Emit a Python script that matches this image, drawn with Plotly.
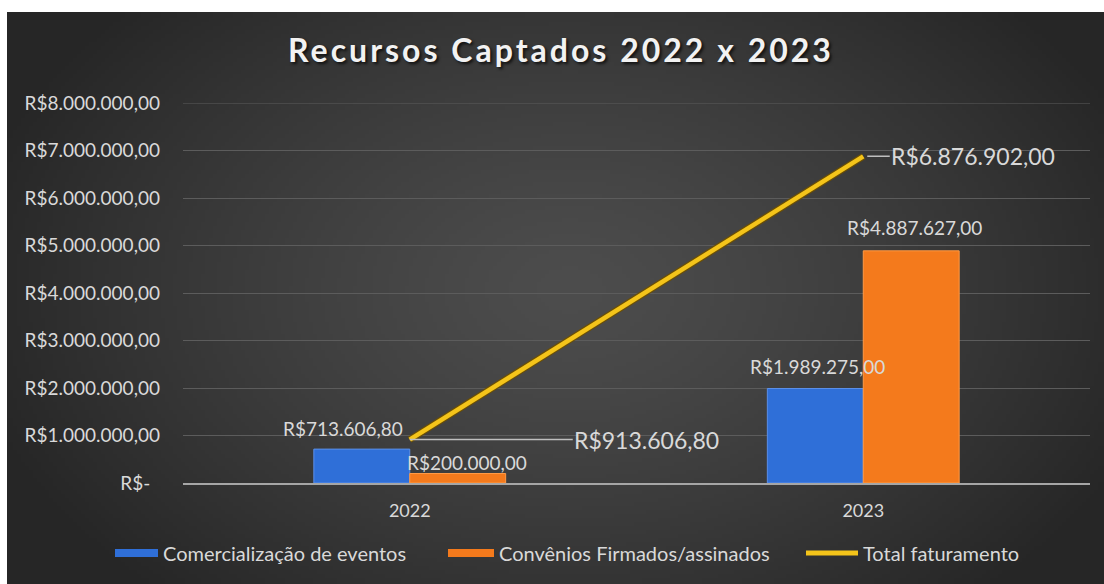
import base64
import struct
import zlib

import numpy as np
import plotly.graph_objects as go

# ---------------- data ----------------
categories = ["2022", "2023"]
comercializacao = [713606.80, 1989275.00]
convenios = [200000.00, 4887627.00]
total_faturamento = [913606.80, 6876902.00]

series_names = ["Comercialização de eventos", "Convênios Firmados/assinados", "Total faturamento"]
title_text = "Recursos Captados 2022 x 2023"

tick_vals = [0, 1000000, 2000000, 3000000, 4000000, 5000000, 6000000, 7000000, 8000000]
tick_text = ["R$-\u00a0\u00a0", "R$1.000.000,00", "R$2.000.000,00", "R$3.000.000,00", "R$4.000.000,00",
             "R$5.000.000,00", "R$6.000.000,00", "R$7.000.000,00", "R$8.000.000,00"]


def brl(v):
    s = f"{v:,.2f}"
    s = s.replace(",", "X").replace(".", ",").replace("X", ".")
    return "R$" + s


# ---------------- styling ----------------
W, H = 1104, 584
L, R, T, B = 183, 14, 103, 101
PW, PH = W - L - R, H - T - B
FONT = "Lato"
TXT = "#d9d9d9"
BLUE = "#2f6fd8"
ORANGE = "#f47a1c"
YELLOW = "#f4c41a"
GRID = "#5c5c5c"
BARGAP = 0.577


def make_png(arr):
    h, w, _ = arr.shape
    raw = b"".join(b"\x00" + arr[i].tobytes() for i in range(h))

    def chunk(tag, data):
        c = struct.pack(">I", len(data)) + tag + data
        return c + struct.pack(">I", zlib.crc32(tag + data) & 0xFFFFFFFF)

    png = b"\x89PNG\r\n\x1a\n"
    png += chunk(b"IHDR", struct.pack(">IIBBBBB", w, h, 8, 2, 0, 0, 0))
    png += chunk(b"IDAT", zlib.compress(raw, 9))
    png += chunk(b"IEND", b"")
    return "data:image/png;base64," + base64.b64encode(png).decode()


# background radial gradient covering the chart region (x 7..1104, y 12..584 px)
bx0, by0, bx1, by1 = 7, 12, W, H
iw, ih = 274, 143
xs = np.linspace(bx0, bx1, iw)
ys = np.linspace(by0, by1, ih)
X, Y = np.meshgrid(xs, ys)
r = np.sqrt(((X - 570) / 620.0) ** 2 + ((Y - 290) / 420.0) ** 2)
r = np.clip(r, 0, 1)
v = 77 - 39 * r ** 1.3
img = np.stack([v, v, v], axis=-1).clip(0, 255).astype(np.uint8)
bg_src = make_png(img)


def px_to_paper_x(px):
    return (px - L) / PW


def px_to_paper_y(py):
    return (H - B - py) / PH


fig = go.Figure()

# bars
fig.add_trace(go.Bar(
    x=categories, y=comercializacao, name=series_names[0], showlegend=False,
    marker=dict(color=BLUE, line=dict(color="#5b8fe8", width=1)),
    hoverinfo="skip",
))
fig.add_trace(go.Bar(
    x=categories, y=convenios, name=series_names[1], showlegend=False,
    marker=dict(color=ORANGE, line=dict(color="#ff9a45", width=1)),
    hoverinfo="skip",
))

# line (dark edge + yellow)
fig.add_trace(go.Scatter(
    x=categories, y=total_faturamento, mode="lines", showlegend=False,
    line=dict(color="rgba(110,80,0,0.9)", width=7), hoverinfo="skip",
))
fig.add_trace(go.Scatter(
    x=categories, y=total_faturamento, mode="lines", name=series_names[2], showlegend=False,
    line=dict(color=YELLOW, width=4.5), hoverinfo="skip",
))

# legend entries (wide swatches), one legend per entry for exact placement
legend_ids = ["legend", "legend2", "legend3"]
for nm, col, lg in zip(series_names, [BLUE, ORANGE, YELLOW], legend_ids):
    fig.add_trace(go.Scatter(
        x=[None], y=[None], mode="lines", name=nm, legend=lg,
        line=dict(color=col, width=8 if col != YELLOW else 5),
    ))

annotations = []
half = (1 - BARGAP) / 4.0
blue_shift = [(-19, 21), (2, 22)]
orange_shift = [(9, 11), (3, 23)]
for i, val in enumerate(comercializacao):
    annotations.append(dict(
        x=i - half, y=val, xref="x", yref="y", text=brl(val), showarrow=False,
        xshift=blue_shift[i][0], yshift=blue_shift[i][1], yanchor="middle",
        font=dict(family=FONT, size=19, color=TXT),
    ))
for i, val in enumerate(convenios):
    annotations.append(dict(
        x=i + half, y=val, xref="x", yref="y", text=brl(val), showarrow=False,
        xshift=orange_shift[i][0], yshift=orange_shift[i][1], yanchor="middle",
        font=dict(family=FONT, size=19, color=TXT),
    ))
line_offsets = [(237, 0, 0), (110, 0, 4)]
for i, val in enumerate(total_faturamento):
    ax, ay, so = line_offsets[i]
    annotations.append(dict(
        x=i, y=val, xref="x", yref="y", text=brl(val), showarrow=True,
        arrowhead=0, arrowwidth=1.5, arrowcolor="#bfbfbf", ax=ax, ay=ay, standoff=so,
        font=dict(family=FONT, size=23, color=TXT),
    ))


def leg(swatch_px, itemwidth):
    return dict(
        orientation="h", x=px_to_paper_x(swatch_px - 5), xanchor="left",
        y=px_to_paper_y(553), yanchor="middle",
        font=dict(family=FONT, size=20, color=TXT), bgcolor="rgba(0,0,0,0)",
        itemwidth=itemwidth,
    )


fig.update_layout(
    width=W, height=H,
    margin=dict(l=L, r=R, t=T, b=B, pad=0),
    paper_bgcolor="white",
    plot_bgcolor="rgba(0,0,0,0)",
    barmode="group", bargap=BARGAP, bargroupgap=0,
    font=dict(family=FONT, color=TXT, size=18),
    title=dict(
        text='<span style="letter-spacing:3px">' + title_text + "</span>",
        x=561 / W, xref="container", xanchor="center",
        y=1 - 51 / H, yref="container", yanchor="middle",
        font=dict(family=FONT, size=32, color="#f2f2f2", weight="bold",
                  shadow="2px 2px 3px rgba(0,0,0,0.7)"),
    ),
    xaxis=dict(
        type="category", range=[-0.5, 1.5], showgrid=False, zeroline=False,
        showline=True, linecolor="#a6a6a6", linewidth=2,
        ticks="", tickfont=dict(family=FONT, size=18, color=TXT),
        ticklabelstandoff=10,
    ),
    yaxis=dict(
        range=[tick_vals[0], tick_vals[-1]], tickvals=tick_vals, ticktext=tick_text,
        showgrid=True, gridcolor=GRID, gridwidth=1, zeroline=False,
        showline=False, ticks="", tickfont=dict(family=FONT, size=19, color=TXT),
        ticklabelstandoff=22,
    ),
    legend=leg(115, 43),
    legend2=leg(448, 46),
    legend3=leg(806, 52),
    annotations=annotations,
    shapes=[dict(type="line", xref="paper", yref="y", x0=0, x1=1,
                 y0=tick_vals[-1], y1=tick_vals[-1], line=dict(color=GRID, width=1),
                 layer="below")],
    images=[dict(
        source=bg_src, xref="paper", yref="paper",
        x=px_to_paper_x(bx0), y=px_to_paper_y(by0),
        sizex=(bx1 - bx0) / PW, sizey=(by1 - by0) / PH,
        sizing="stretch", xanchor="left", yanchor="top", layer="below",
    )],
)

fig.write_html("out.html", config={"displayModeBar": False},
               post_script="document.body.style.margin='0px';")
